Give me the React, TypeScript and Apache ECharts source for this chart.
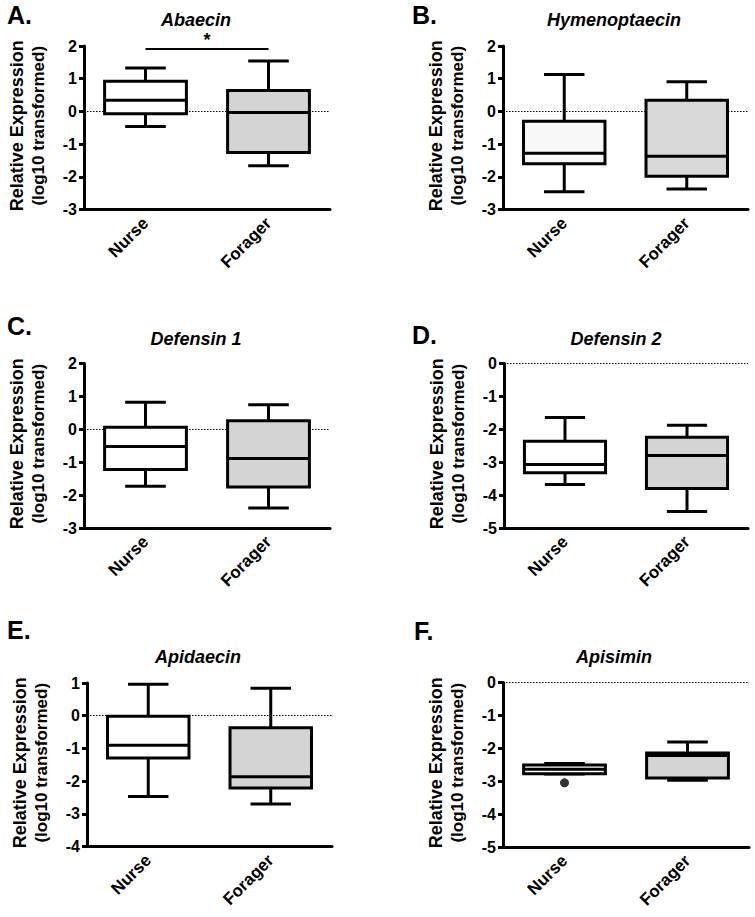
import React, { useEffect, useRef } from "react";
import * as echarts from "echarts";

// ---------- data ----------
const CATEGORIES = ["Nurse", "Forager"];
const Y_NAME_LINE1 = "Relative Expression";
const Y_NAME_LINE2 = "(log10 transformed)";
const PANEL_LETTERS = ["A.", "B.", "C.", "D.", "E.", "F."];
const PANEL_TITLES = ["Abaecin", "Hymenoptaecin", "Defensin 1", "Defensin 2", "Apidaecin", "Apisimin"];

// y-axis ranges [min, max]
const Y_RANGES = [
  [-3, 2],
  [-3, 2],
  [-3, 2],
  [-5, 0],
  [-4, 1],
  [-5, 0],
];

// [low whisker, Q1, median, Q3, high whisker]
const ABAECIN_NURSE = [-0.46, -0.07, 0.34, 0.92, 1.33];
const ABAECIN_FORAGER = [-1.66, -1.26, -0.03, 0.64, 1.54];
const HYMENOPTAECIN_NURSE = [-2.46, -1.6, -1.28, -0.3, 1.13];
const HYMENOPTAECIN_FORAGER = [-2.37, -1.98, -1.37, 0.34, 0.91];
const DEFENSIN1_NURSE = [-1.73, -1.22, -0.52, 0.06, 0.82];
const DEFENSIN1_FORAGER = [-2.39, -1.75, -0.89, 0.26, 0.75];
const DEFENSIN2_NURSE = [-3.68, -3.32, -3.07, -2.36, -1.64];
const DEFENSIN2_FORAGER = [-4.5, -3.8, -2.8, -2.24, -1.88];
const APIDAECIN_NURSE = [-2.47, -1.29, -0.9, -0.02, 0.96];
const APIDAECIN_FORAGER = [-2.7, -2.21, -1.87, -0.37, 0.84];
const APISIMIN_NURSE = [-2.78, -2.77, -2.64, -2.51, -2.46];
const APISIMIN_FORAGER = [-2.97, -2.9, -2.22, -2.14, -1.81];
const APISIMIN_NURSE_OUTLIERS = [-3.05];

// significance bar in panel A (Nurse vs Forager)
const ABAECIN_SIG_LEVEL = 1.91;
const ABAECIN_SIG_LABEL = "*";

const PANEL_DATA = [
  [ABAECIN_NURSE, ABAECIN_FORAGER],
  [HYMENOPTAECIN_NURSE, HYMENOPTAECIN_FORAGER],
  [DEFENSIN1_NURSE, DEFENSIN1_FORAGER],
  [DEFENSIN2_NURSE, DEFENSIN2_FORAGER],
  [APIDAECIN_NURSE, APIDAECIN_FORAGER],
  [APISIMIN_NURSE, APISIMIN_FORAGER],
];

// ---------- layout & style ----------
const FONT = "'Liberation Sans', Arial, Helvetica, sans-serif";
const GRIDS = [
  { left: 84, top: 46, width: 246, height: 163.5 },
  { left: 503, top: 46, width: 245, height: 163.5 },
  { left: 84, top: 363.5, width: 246, height: 164.5 },
  { left: 504, top: 363.5, width: 244, height: 164.5 },
  { left: 87, top: 683, width: 245, height: 163.5 },
  { left: 503, top: 682.5, width: 246, height: 164.5 },
];
const LETTER_POS = [
  [7, 15],
  [412, 15],
  [7, 326],
  [412, 335],
  [7, 630],
  [414, 631],
];
const TITLE_POS = [
  [196, 20],
  [614, 20],
  [196, 339],
  [616, 339],
  [198, 657],
  [614, 657],
];
const BOX_FILLS = [
  ["#ffffff", "#d4d4d4"],
  ["#f8f8f8", "#d9d9d9"],
  ["#ffffff", "#d4d4d4"],
  ["#ffffff", "#d4d4d4"],
  ["#ffffff", "#d4d4d4"],
  ["#ffffff", "#d4d4d4"],
];

const makeRenderItem = (fills: string[]) => (params: any, api: any) => {
  const xi = api.value(0);
  const pts = [1, 2, 3, 4, 5].map((i) => api.coord([xi, api.value(i)]));
  const [pLow, pQ1, pMed, pQ3, pHigh] = pts;
  const band = api.size([1, 0])[0];
  const bw = band * 0.665;
  const cw = band * 0.33;
  const cx = pMed[0];
  const ls = { stroke: "#000", lineWidth: 3, fill: null };
  return {
    type: "group",
    children: [
      { type: "line", shape: { x1: cx, y1: pQ3[1], x2: cx, y2: pHigh[1] }, style: ls },
      { type: "line", shape: { x1: cx, y1: pQ1[1], x2: cx, y2: pLow[1] }, style: ls },
      { type: "line", shape: { x1: cx - cw / 2, y1: pHigh[1], x2: cx + cw / 2, y2: pHigh[1] }, style: ls },
      { type: "line", shape: { x1: cx - cw / 2, y1: pLow[1], x2: cx + cw / 2, y2: pLow[1] }, style: ls },
      {
        type: "rect",
        shape: { x: cx - bw / 2, y: pQ3[1], width: bw, height: pQ1[1] - pQ3[1] },
        style: { fill: fills[params.dataIndex], stroke: "#000", lineWidth: 3 },
      },
      { type: "line", shape: { x1: cx - bw / 2, y1: pMed[1], x2: cx + bw / 2, y2: pMed[1] }, style: ls },
    ],
  };
};

function buildOption() {
  const grid: any[] = [];
  const xAxis: any[] = [];
  const yAxis: any[] = [];
  const series: any[] = [];
  const graphic: any[] = [];

  GRIDS.forEach((g, i) => {
    grid.push({ ...g, containLabel: false });
    xAxis.push({
      type: "category",
      gridIndex: i,
      data: CATEGORIES,
      axisLine: { onZero: false, lineStyle: { color: "#000", width: 3 } },
      axisTick: { alignWithLabel: true, length: 5, lineStyle: { color: "#000", width: 3 } },
      axisLabel: {
        rotate: 45,
        margin: 11,
        color: "#000",
        fontSize: 17,
        fontWeight: "bold",
        fontFamily: FONT,
      },
      splitLine: { show: false },
    });
    yAxis.push({
      type: "value",
      gridIndex: i,
      min: Y_RANGES[i][0],
      max: Y_RANGES[i][1],
      interval: 1,
      axisLine: { show: true, onZero: false, lineStyle: { color: "#000", width: 3 } },
      axisTick: { show: true, length: 5, lineStyle: { color: "#000", width: 3 } },
      axisLabel: {
        margin: 7,
        color: "#000",
        fontSize: 16,
        fontWeight: "bold",
        fontFamily: FONT,
      },
      splitLine: { show: false },
    });

    // zero reference line (behind boxes)
    series.push({
      type: "line",
      xAxisIndex: i,
      yAxisIndex: i,
      data: [],
      z: 1,
      silent: true,
      markLine: {
        z: 1,
        silent: true,
        symbol: ["none", "none"],
        label: { show: false },
        lineStyle: { color: "#000", type: [1.5, 1.5], width: 1 },
        data: [{ yAxis: 0 }],
      },
    });

    const boxSeries: any = {
      type: "custom",
      xAxisIndex: i,
      yAxisIndex: i,
      z: 3,
      renderItem: makeRenderItem(BOX_FILLS[i]),
      encode: { x: 0, y: [1, 2, 3, 4, 5] },
      data: PANEL_DATA[i].map((d, k) => [k, ...d]),
    };
    if (i === 0) {
      boxSeries.markLine = {
        silent: true,
        symbol: ["none", "none"],
        lineStyle: { color: "#000", type: "solid", width: 2 },
        label: {
          show: true,
          position: "middle",
          formatter: ABAECIN_SIG_LABEL,
          color: "#000",
          fontSize: 18,
          fontWeight: "bold",
          fontFamily: FONT,
          distance: 0,
        },
        data: [
          [
            { coord: [0, ABAECIN_SIG_LEVEL] },
            { coord: [1, ABAECIN_SIG_LEVEL] },
          ],
        ],
      };
    }
    series.push(boxSeries);

    if (i === 5) {
      series.push({
        type: "scatter",
        xAxisIndex: i,
        yAxisIndex: i,
        z: 4,
        symbol: "circle",
        symbolSize: 9,
        itemStyle: { color: "#000" },
        data: APISIMIN_NURSE_OUTLIERS.map((v) => [0, v]),
      });
    }

    // panel letter
    graphic.push({
      type: "text",
      x: LETTER_POS[i][0],
      y: LETTER_POS[i][1],
      style: {
        text: PANEL_LETTERS[i],
        font: `bold 25px ${FONT}`,
        fill: "#000",
        textAlign: "left",
        textVerticalAlign: "middle",
      },
    });
    // panel title
    graphic.push({
      type: "text",
      x: TITLE_POS[i][0],
      y: TITLE_POS[i][1],
      style: {
        text: PANEL_TITLES[i],
        font: `italic bold 18px ${FONT}`,
        fill: "#000",
        textAlign: "center",
        textVerticalAlign: "middle",
      },
    });
    // y axis name (two lines)
    const cy = g.top + g.height / 2 - 2;
    graphic.push({
      type: "text",
      x: g.left - 67,
      y: cy,
      rotation: Math.PI / 2,
      style: {
        text: Y_NAME_LINE1,
        font: `bold 18px ${FONT}`,
        fill: "#000",
        textAlign: "center",
        textVerticalAlign: "middle",
      },
    });
    graphic.push({
      type: "text",
      x: g.left - 46,
      y: cy,
      rotation: Math.PI / 2,
      style: {
        text: Y_NAME_LINE2,
        font: `bold 17px ${FONT}`,
        fill: "#000",
        textAlign: "center",
        textVerticalAlign: "middle",
      },
    });
  });

  return {
    animation: false,
    backgroundColor: "#ffffff",
    textStyle: { fontFamily: FONT },
    grid,
    xAxis,
    yAxis,
    series,
    graphic,
  };
}

export default function App() {
  const ref = useRef<HTMLDivElement>(null);
  useEffect(() => {
    if (!ref.current) return;
    const chart = echarts.init(ref.current, null, { renderer: "svg" });
    chart.setOption(buildOption() as any);
    return () => chart.dispose();
  }, []);
  return (
    <div
      ref={ref}
      style={{ position: "absolute", left: 0, top: 0, width: 755, height: 917, background: "#fff" }}
    />
  );
}
